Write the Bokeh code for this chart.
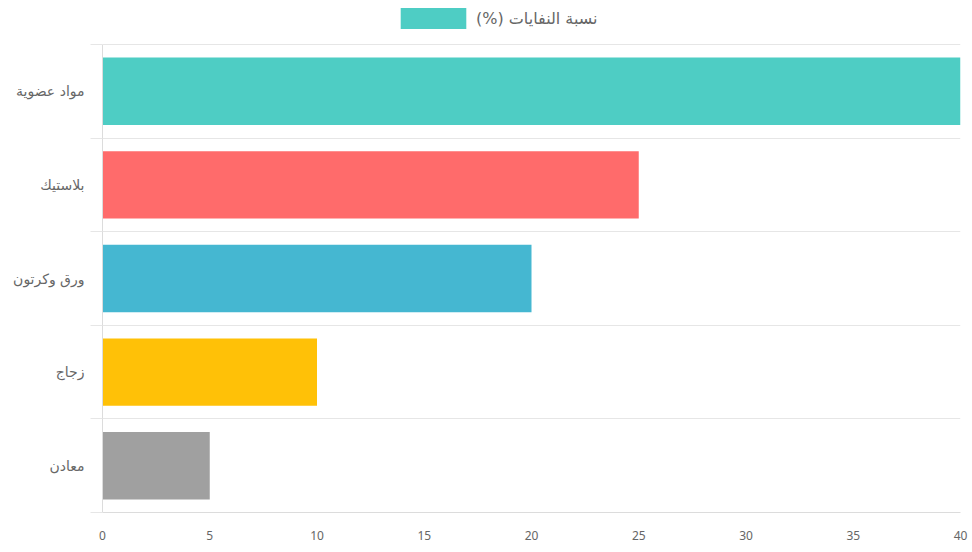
from bokeh.plotting import figure
from bokeh.models import Range1d, FixedTicker, Legend, LegendItem, ColumnDataSource
from bokeh.embed import file_html
from bokeh.resources import INLINE

categories = ["مواد عضوية", "بلاستيك", "ورق وكرتون", "زجاج", "معادن"]
values = [40, 25, 20, 10, 5]
colors = ["#4ECDC4", "#FF6B6B", "#45B7D1", "#FFC107", "#A0A0A0"]
series_label = "نسبة النفايات (%)\u200f"
x_ticks = [0, 5, 10, 15, 20, 25, 30, 35, 40]

n = len(categories)
positions = list(range(n))
boundaries = [i - 0.5 for i in range(n + 1)]

# room above the first category for the legend (in category units)
top_pad = 44 / 93.6

src = ColumnDataSource(dict(y=positions, right=values, color=colors, cat=categories))

p = figure(width=972, height=552, output_backend="svg", toolbar_location=None,
           x_range=Range1d(x_ticks[0], x_ticks[-1]),
           y_range=Range1d(n - 0.5, -0.5 - top_pad),
           min_border_left=102, min_border_right=12, min_border_top=0, min_border_bottom=40)
p.outline_line_color = None
p.background_fill_color = "white"

bars = p.hbar(y="y", right="right", left=0, height=0.72, fill_color="color",
              line_color=None, source=src)

grid_col = "#e6e6e6"
font = "Noto Sans"
afont = "DejaVu Sans"

# y axis
p.yaxis.ticker = FixedTicker(ticks=positions, minor_ticks=boundaries)
p.yaxis.bounds = (boundaries[0], boundaries[-1])
p.yaxis.major_label_overrides = {i: c for i, c in enumerate(categories)}
p.yaxis.major_tick_line_color = None
p.yaxis.major_tick_out = 0
p.yaxis.minor_tick_line_color = grid_col
p.yaxis.minor_tick_out = 12
p.yaxis.minor_tick_in = 0
p.yaxis.major_label_standoff = 6
p.yaxis.axis_line_color = "#dcdcdc"
p.yaxis.major_label_text_color = "#666666"
p.yaxis.major_label_text_font_size = "14px"
p.yaxis.major_label_text_font = afont

p.ygrid.ticker = FixedTicker(ticks=positions, minor_ticks=boundaries)
p.ygrid.grid_line_color = None
p.ygrid.minor_grid_line_color = grid_col

# x axis
p.xaxis.ticker = FixedTicker(ticks=x_ticks)
p.xaxis.major_tick_line_color = None
p.xaxis.minor_tick_line_color = None
p.xaxis.major_tick_out = 0
p.xaxis.major_label_standoff = 18
p.xaxis.axis_line_color = "#dcdcdc"
p.xaxis.major_label_text_color = "#666666"
p.xaxis.major_label_text_font_size = "12px"
p.xaxis.major_label_text_font = font
p.xgrid.grid_line_color = None

legend = Legend(items=[LegendItem(label=series_label, renderers=[bars], index=0)],
                location=(290, 481), orientation="horizontal",
                border_line_color=None, background_fill_alpha=0,
                label_text_font_size="16px", label_text_color="#666666",
                label_text_font=afont,
                glyph_width=82, glyph_height=26, label_standoff=2,
                padding=0, margin=0, spacing=0)
p.add_layout(legend, "center")

open("out.html", "w").write(file_html(p, INLINE))
